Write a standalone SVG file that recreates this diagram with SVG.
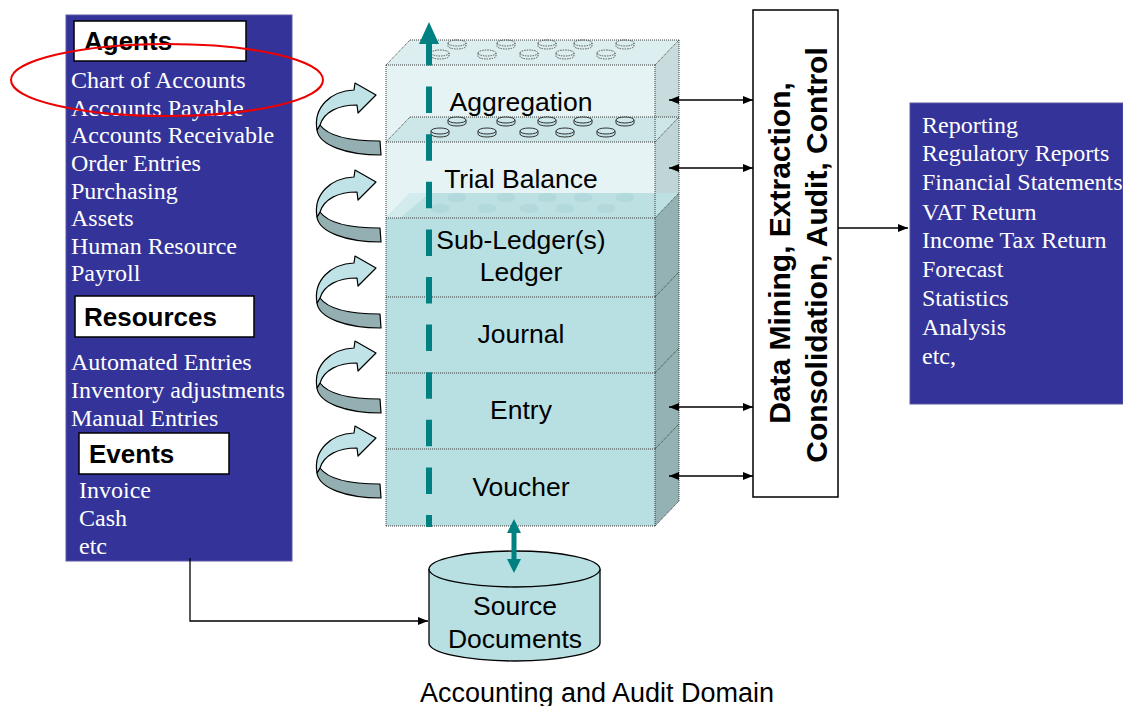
<svg xmlns="http://www.w3.org/2000/svg" xmlns:xlink="http://www.w3.org/1999/xlink" width="1123" height="706" viewBox="0 0 1123 706">
<style>
.panel{fill:#333399;stroke:#5a5aa8;stroke-width:1}
.hdr{fill:#ffffff;stroke:#000;stroke-width:1.5}
.hdrt{font-family:"Liberation Sans",Arial,sans-serif;font-weight:bold;font-size:26px;fill:#000}
.item{font-family:"Liberation Serif","Times New Roman",serif;font-size:24px;fill:#ffffff}
.lbl{font-family:"Liberation Sans",Arial,sans-serif;font-size:26.5px;fill:#000;text-anchor:middle}
.dm{font-family:"Liberation Sans",Arial,sans-serif;font-weight:bold;font-size:30px;fill:#000;text-anchor:middle}
.dot{fill:none;stroke:#3a3a3a;stroke-width:1;stroke-dasharray:1 1}
.con{fill:none;stroke:#000;stroke-width:1.3}
.light{fill:#bfe3e6;stroke:#000;stroke-width:1.2;stroke-linejoin:round}
.dark{fill:#93afb1;stroke:#000;stroke-width:1.2;stroke-linejoin:round}
</style>
<defs>
<marker id="ah" viewBox="0 0 10 8" refX="10" refY="4" markerWidth="10" markerHeight="8" markerUnits="userSpaceOnUse" orient="auto-start-reverse">
<path d="M0,0 L10,4 L0,8 Z" fill="#000"/>
</marker>
<g id="disk">
<path d="M0,3 V6 A9,3 0 0 0 18,6 V3" fill="#c4e3e6" stroke="#333" stroke-width="1"/>
<ellipse cx="9" cy="3" rx="9" ry="3" fill="#cfe9eb" stroke="#333" stroke-width="1"/>
</g>
<g id="fdisk">
<path d="M0,3 V6 A9,3 0 0 0 18,6 V3 Z" fill="#a9d3d7"/>
<ellipse cx="9" cy="3" rx="9" ry="3" fill="#a9d3d7"/>
</g>
<g id="ddisk">
<path d="M0,3 V6 A9,3 0 0 0 18,6 V3" fill="none" stroke="#555" stroke-width="1" stroke-dasharray="1.5 1"/>
<ellipse cx="9" cy="3" rx="9" ry="3" fill="none" stroke="#555" stroke-width="1" stroke-dasharray="1.5 1"/>
</g>
<g id="carrow">
<path class="dark" d="M-56,30 C-48,41 -25,46 4,46 L5,60 C-30,60 -57,50 -59,35 Z"/>
<path class="light" d="M-59,35 C-63,12 -45,-4 -22,-5 L-21,-12 L0,0 L-18,18 L-19,10 C-38,10 -52,17 -56,30 Z"/>
</g>
</defs>
<rect width="1123" height="706" fill="#ffffff"/>

<g id="left-panel">
<rect class="panel" x="66" y="15" width="226" height="546"/>
<rect class="hdr" x="74" y="21" width="172" height="40"/>
<text class="hdrt" x="84" y="50">Agents</text>
<text class="item" x="71" y="88">Chart of Accounts</text>
<text class="item" x="71" y="116">Accounts Payable</text>
<text class="item" x="71" y="143">Accounts Receivable</text>
<text class="item" x="71" y="171">Order Entries</text>
<text class="item" x="71" y="199">Purchasing</text>
<text class="item" x="71" y="226">Assets</text>
<text class="item" x="71" y="254">Human Resource</text>
<text class="item" x="71" y="281">Payroll</text>
<rect class="hdr" x="75" y="296" width="179" height="41"/>
<text class="hdrt" x="84" y="326">Resources</text>
<text class="item" x="71" y="370">Automated Entries</text>
<text class="item" x="71" y="398">Inventory adjustments</text>
<text class="item" x="71" y="426">Manual Entries</text>
<rect class="hdr" x="79" y="433" width="150" height="41"/>
<text class="hdrt" x="89" y="463">Events</text>
<text class="item" x="79" y="498">Invoice</text>
<text class="item" x="79" y="526">Cash</text>
<text class="item" x="79" y="554">etc</text>
</g>

<g id="highlight">
<ellipse cx="167" cy="80" rx="156" ry="36" fill="none" stroke="#ee0000" stroke-width="2"/>
</g>

<g id="curved-arrows">
<use xlink:href="#carrow" href="#carrow" transform="translate(376,95)"/>
<use xlink:href="#carrow" href="#carrow" transform="translate(376,182)"/>
<use xlink:href="#carrow" href="#carrow" transform="translate(376,268)"/>
<use xlink:href="#carrow" href="#carrow" transform="translate(376,353)"/>
<use xlink:href="#carrow" href="#carrow" transform="translate(376,438)"/>
</g>

<g id="stack">
<rect x="386" y="65" width="269" height="153" fill="#e5f3f4"/>
<polygon points="386,65 410,40 679,40 655,65" fill="#dceeef"/>
<polygon points="655,65 679,40 679,193 655,218" fill="#c8dcdd"/>
<polygon points="386,142 410,117 679,117 655,142" fill="#cde7e9"/>
<polygon points="655,142 679,117 679,193 655,218" fill="#bfd5d7"/>
<polygon points="386,218 410,193 679,193 655,218" fill="#bde0e3"/>
<polygon points="386,218 410,193 430,193 400,218" fill="#d2ebed"/>
<rect x="386" y="218" width="269" height="308" fill="#b8e0e3"/>
<polygon points="655,218 679,193 679,501 655,526" fill="#94b1b3"/>
<g opacity="0.5">
<use href="#fdisk" xlink:href="#fdisk" x="448" y="193"/><use href="#fdisk" xlink:href="#fdisk" x="497" y="193"/><use href="#fdisk" xlink:href="#fdisk" x="538" y="193"/><use href="#fdisk" xlink:href="#fdisk" x="574" y="193"/><use href="#fdisk" xlink:href="#fdisk" x="616" y="193"/>
<use href="#fdisk" xlink:href="#fdisk" x="431" y="204"/><use href="#fdisk" xlink:href="#fdisk" x="478" y="204"/><use href="#fdisk" xlink:href="#fdisk" x="520" y="204"/><use href="#fdisk" xlink:href="#fdisk" x="556" y="204"/><use href="#fdisk" xlink:href="#fdisk" x="597" y="204"/>
</g>
<path class="dot" d="M386,65 H655 M386,142 H655 M386,218 H655 M386,297 H655 M386,373 H655 M386,449 H655 M386,526 H655 M386,65 V526 M655,65 V526 M679,40 V501 M410,40 H679 M410,117 H679 M386,65 L410,40 M386,142 L410,117 M655,65 L679,40 M655,142 L679,117 M655,218 L679,193 M655,297 L679,272 M655,373 L679,348 M655,449 L679,424 M655,526 L679,501"/>
<use href="#ddisk" xlink:href="#ddisk" x="448" y="40"/><use href="#ddisk" xlink:href="#ddisk" x="497" y="40"/><use href="#ddisk" xlink:href="#ddisk" x="538" y="40"/><use href="#ddisk" xlink:href="#ddisk" x="574" y="40"/><use href="#ddisk" xlink:href="#ddisk" x="616" y="40"/>
<use href="#ddisk" xlink:href="#ddisk" x="431" y="50"/><use href="#ddisk" xlink:href="#ddisk" x="478" y="50"/><use href="#ddisk" xlink:href="#ddisk" x="520" y="50"/><use href="#ddisk" xlink:href="#ddisk" x="556" y="50"/><use href="#ddisk" xlink:href="#ddisk" x="597" y="50"/>
<use href="#disk" xlink:href="#disk" x="448" y="117"/><use href="#disk" xlink:href="#disk" x="497" y="117"/><use href="#disk" xlink:href="#disk" x="538" y="117"/><use href="#disk" xlink:href="#disk" x="574" y="117"/><use href="#disk" xlink:href="#disk" x="616" y="117"/>
<use href="#disk" xlink:href="#disk" x="431" y="128"/><use href="#disk" xlink:href="#disk" x="478" y="128"/><use href="#disk" xlink:href="#disk" x="520" y="128"/><use href="#disk" xlink:href="#disk" x="556" y="128"/><use href="#disk" xlink:href="#disk" x="597" y="128"/>
<line x1="429" y1="527" x2="429" y2="43" stroke="#008080" stroke-width="6" stroke-dasharray="26.5 21.1" stroke-dashoffset="14.5"/>
<polygon points="419,44 429,22 439,44" fill="#008080"/>
<text class="lbl" x="521" y="111">Aggregation</text>
<text class="lbl" x="521" y="188">Trial Balance</text>
<text class="lbl" x="521" y="249">Sub-Ledger(s)</text>
<text class="lbl" x="521" y="281">Ledger</text>
<text class="lbl" x="521" y="343">Journal</text>
<text class="lbl" x="521" y="419">Entry</text>
<text class="lbl" x="521" y="496">Voucher</text>
</g>

<g id="data-mining">
<rect x="753" y="10" width="85" height="487" fill="#ffffff" stroke="#000" stroke-width="1.5"/>
<text class="dm" transform="translate(790,253) rotate(-90)">Data Mining, Extraction,</text>
<text class="dm" transform="translate(827,255) rotate(-90)">Consolidation, Audit, Control</text>
</g>

<g id="reports">
<rect class="panel" x="910" y="103" width="213" height="301"/>
<text class="item" x="922" y="133">Reporting</text>
<text class="item" x="922" y="161">Regulatory Reports</text>
<text class="item" x="922" y="190">Financial Statements</text>
<text class="item" x="922" y="220">VAT Return</text>
<text class="item" x="922" y="248">Income Tax Return</text>
<text class="item" x="922" y="277">Forecast</text>
<text class="item" x="922" y="306">Statistics</text>
<text class="item" x="922" y="335">Analysis</text>
<text class="item" x="922" y="364">etc,</text>
</g>

<g id="source-documents">
<path d="M429,569 V643 A85.5,18 0 0 0 600,643 V569" fill="#b8e0e3" stroke="#000" stroke-width="1.3"/>
<ellipse cx="514.5" cy="569" rx="85.5" ry="18" fill="#b8e0e3" stroke="#000" stroke-width="1.3"/>
<text class="lbl" x="515" y="615">Source</text>
<text class="lbl" x="515" y="648">Documents</text>
</g>

<g id="connectors">
<line class="con" x1="669" y1="100" x2="753" y2="100" marker-start="url(#ah)" marker-end="url(#ah)"/>
<line class="con" x1="669" y1="168" x2="753" y2="168" marker-start="url(#ah)" marker-end="url(#ah)"/>
<line class="con" x1="669" y1="407" x2="753" y2="407" marker-start="url(#ah)" marker-end="url(#ah)"/>
<line class="con" x1="669" y1="476" x2="753" y2="476" marker-start="url(#ah)" marker-end="url(#ah)"/>
<line class="con" x1="838" y1="228" x2="908" y2="228" marker-end="url(#ah)"/>
<path class="con" d="M190,558 V621 H428" marker-end="url(#ah)"/>
<g fill="#008080">
<rect x="511.5" y="530" width="5" height="32"/>
<polygon points="507,533 514,519 521,533"/>
<polygon points="507,559 514,573 521,559"/>
</g>
</g>

<text x="597" y="702" font-family="Liberation Sans, Arial, sans-serif" font-size="27" text-anchor="middle" fill="#000">Accounting and Audit Domain</text>
</svg>
